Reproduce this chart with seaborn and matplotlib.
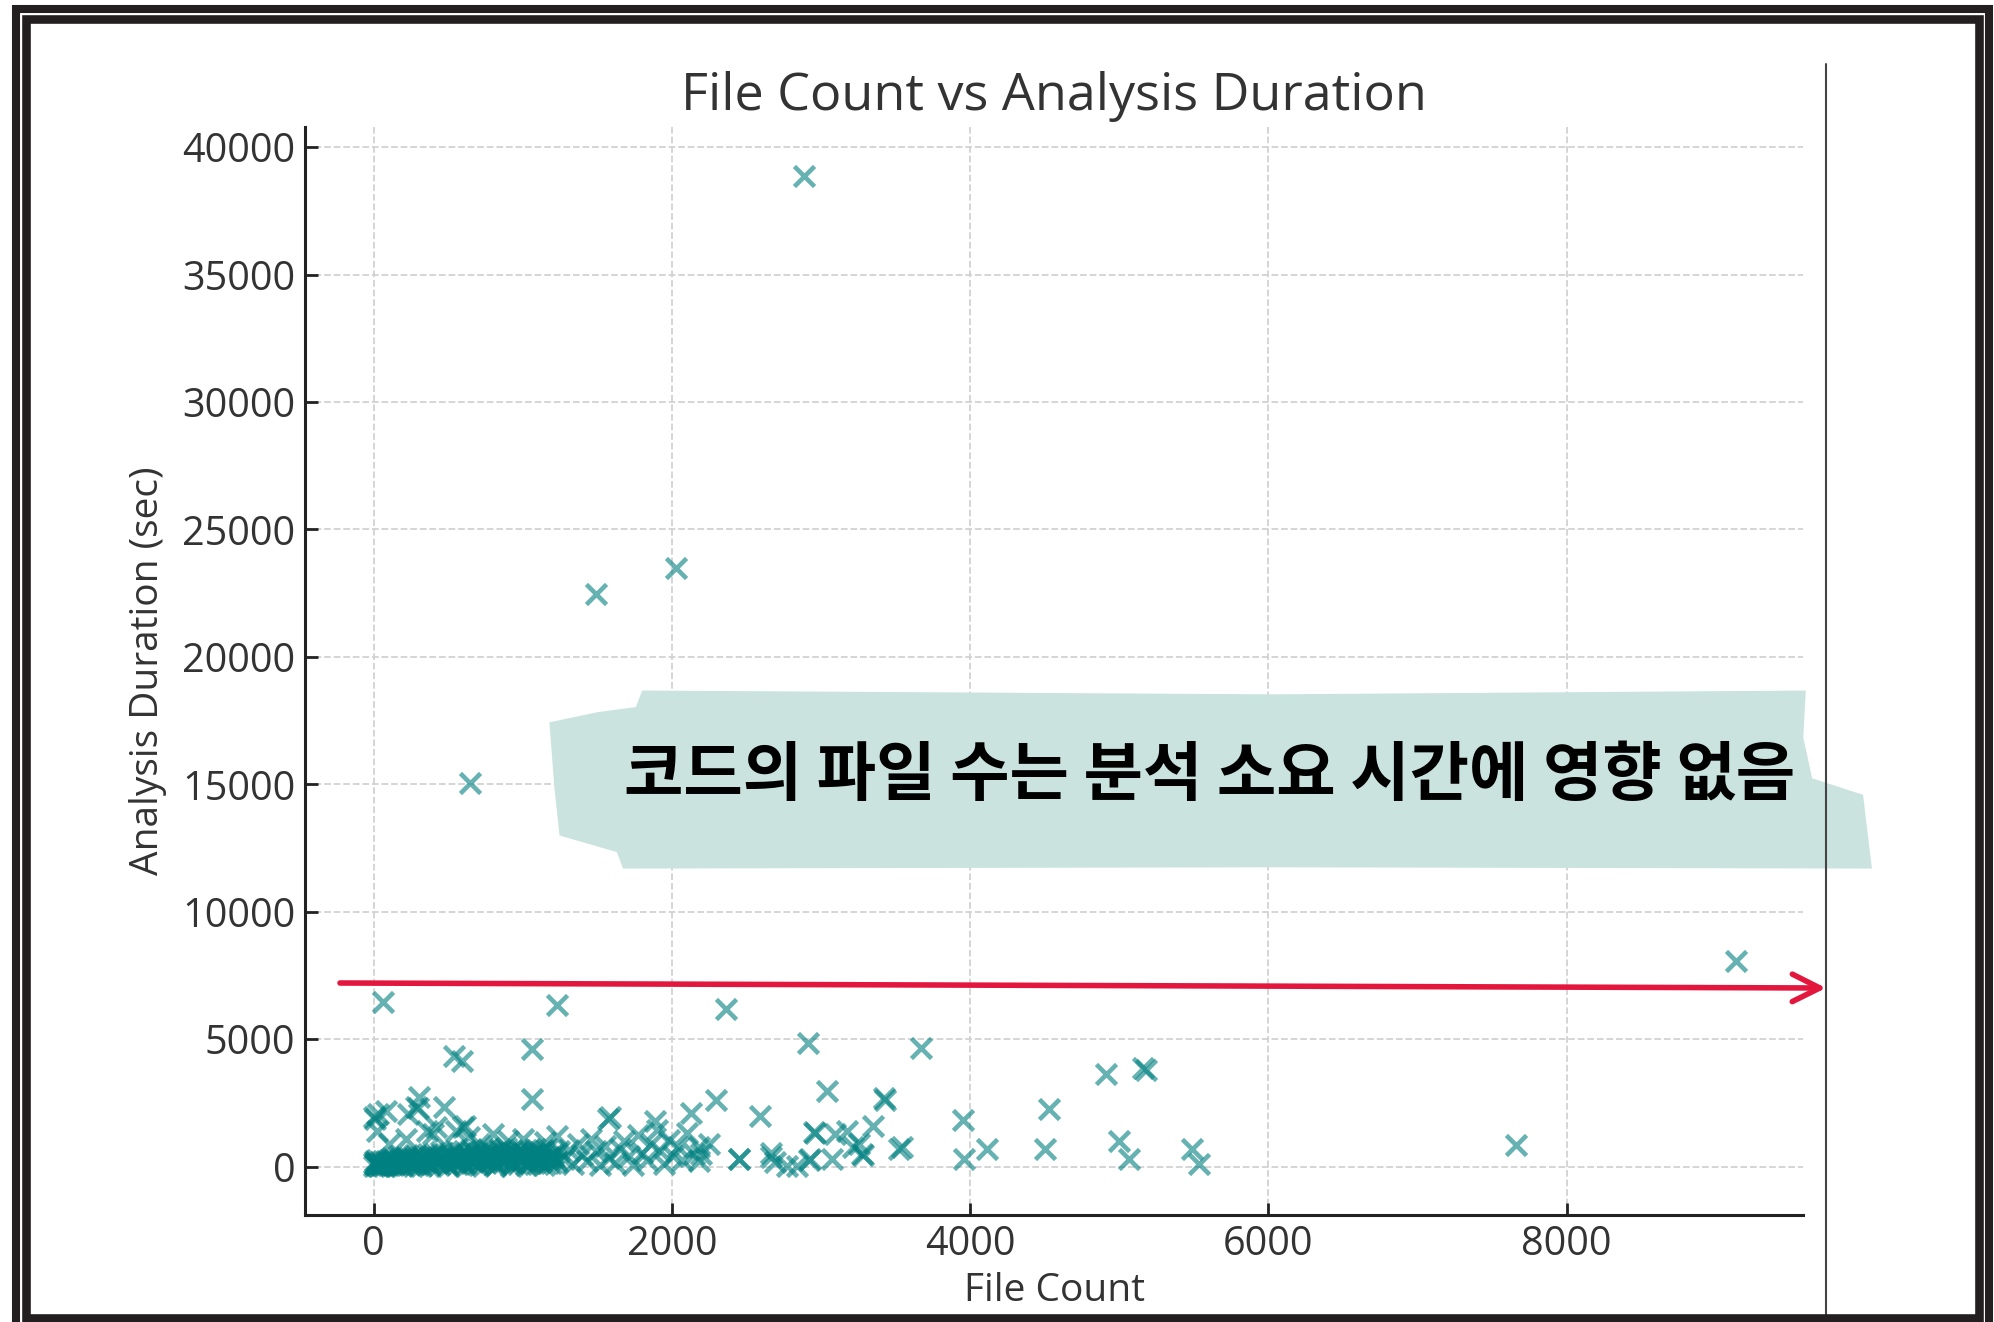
import pandas as pd
import seaborn as sns
from matplotlib import pyplot as plt
from matplotlib.patches import Polygon, Rectangle, FancyArrowPatch
from matplotlib.lines import Line2D

W, H = 1994, 1322

# dense band of small projects (file count, seconds)
band_files = [
    0, 5, 10, 15, 20, 25, 30, 40, 50, 60, 70, 80, 90, 100,
    110, 125, 140, 155, 170, 185, 200, 215, 230, 245, 260, 275, 290, 305,
    320, 335, 350, 365, 380, 395,
    410, 425, 440, 455, 470, 485, 500, 515, 530, 545, 560, 575, 590, 605,
    620, 635, 650, 665, 680, 695, 710, 725, 740, 755, 770, 785,
    800, 815, 830, 845, 860, 875, 890, 905, 920, 935, 950, 965, 980, 995,
    1010, 1025, 1040, 1055, 1070, 1085, 1100, 1115, 1130, 1145, 1160, 1175,
    1190, 1205, 1220, 1240,
    8, 35, 65, 95, 130, 160, 190, 220, 250, 280, 310, 340, 370, 400, 430,
    460, 490, 520, 550, 580, 610, 640, 670, 700, 730, 760, 790, 820, 850,
    880, 910, 940, 970, 1000, 1030, 1060, 1090, 1120, 1150, 1180, 1210,
    18, 48, 78, 112, 145, 178, 208, 238, 268, 298, 328, 358, 388, 418, 448,
    478, 508, 538, 568, 598, 628, 658, 688, 718, 748, 778, 808, 838, 868,
    898, 928, 958, 988, 1018, 1048, 1078, 1108, 1138, 1168, 1198, 1228,
]
band_secs = [
    20, 150, 230, 80, 250, 110, 40, 190, 120, 60, 10, 220, 170, 240,
    60, 320, 230, 30, 400, 300, 110, 380, 200, 50, 350, 440, 140, 270,
    20, 450, 180, 480, 90, 320,
    500, 240, 60, 560, 380, 150, 30, 520, 280, 600, 100, 430, 210, 600,
    40, 350, 640, 170, 480, 290, 60, 620, 390, 130, 700, 250,
    540, 40, 330, 680, 160, 450, 720, 220, 30, 580, 370, 120, 650, 290,
    500, 70, 640, 200, 430, 700, 110, 560, 300, 60, 680, 390, 150, 500,
    250, 620,
    90, 40, 200, 70, 150, 280, 20, 330, 160, 90, 390, 250, 30, 420, 180,
    350, 90, 460, 210, 520, 120, 400, 260, 540, 160, 450, 330, 120, 600,
    260, 470, 150, 380, 550, 230, 460, 300, 180, 420, 280, 360,
    130, 60, 110, 180, 90, 220, 300, 120, 260, 60, 330, 220, 360, 160, 290,
    240, 410, 130, 330, 250, 460, 230, 110, 410, 290, 520, 200, 460, 330,
    580, 140, 490, 260, 420, 130, 540, 240, 640, 150, 420, 180,
]

# medium projects and outliers (file count, seconds)
other_files = [
    2888, 2028, 1491, 647, 9133, 60, 1227, 2362, 2915, 3672, 1062, 536, 592,
    4908, 5160, 5178, 3039, 1062, 2295, 3420, 3432, 4528, 2130, 2588, 3955,
    2950, 2958, 3095, 3175, 3352, 3252, 3274, 3545, 3520, 2447, 2662, 2693,
    2775, 2838, 2928, 2920, 3075, 3218, 3282, 3960, 4112, 4503, 5000, 5066,
    5491, 5535, 7658, 2180, 2195, 2185,
    0, 12, 22, 27, 83, 228, 284, 296, 306, 474, 418, 358, 615, 597,
    1587, 1569, 1889, 105, 217, 396, 552, 641, 708, 798, 900, 1000, 1150,
    1230, 1280, 1310, 1340, 1370, 1400, 1430, 1460, 1490, 1520, 1550, 1580,
    1620, 1650, 1680, 1710, 1740, 1770, 1800, 1830, 1860, 1900, 1920, 1950,
    1980, 2010, 2040, 2070, 2100, 2150, 2250, 2452, 2664,
]
other_secs = [
    38850, 23500, 22450, 15050, 8050, 6450, 6350, 6200, 4850, 4670, 4607,
    4346, 4150, 3630, 3850, 3800, 2980, 2649, 2600, 2680, 2630, 2265, 2100,
    2000, 1810, 1340, 1300, 1280, 1405, 1600, 890, 496, 760, 680, 300, 540,
    170, 40, 40, 300, 240, 300, 780, 455, 310, 692, 692, 1018, 300, 692,
    104, 860, 760, 500, 235,
    1950, 1880, 1409, 2062, 2192, 2062, 2323, 2290, 2714, 2323, 1540, 1409,
    1605, 1540, 1931, 1866, 1801, 887, 1083, 1279, 1409, 1148, 887, 1279,
    1000, 1100, 950, 1200, 300, 650, 90, 900, 450, 200, 1100, 600, 50, 820,
    350, 150, 700, 1000, 400, 80, 1250, 550, 250, 900, 1450, 600, 120, 1050,
    400, 750, 250, 1300, 500, 900, 300, 365,
]

note = "코드의 파일 수는 분석 소요 시간에 영향 없음"

df = pd.DataFrame({
    "File Count": band_files + other_files,
    "Analysis Duration (sec)": band_secs + other_secs,
})

sns.set_style("ticks")
plt.rcParams["font.family"] = ["Open Sans", "DejaVu Sans"]


def fx(px):
    return px / W


def fy(py):
    return 1 - py / H


fig = plt.figure(figsize=(W / 100, H / 100), dpi=100)
ax = fig.add_axes([fx(305), fy(1215), fx(1803) - fx(305), fy(127) - fy(1215)])

ax.grid(True, linestyle="--", color="#d2d2d2", linewidth=1.3)
ax.set_axisbelow(True)
sns.scatterplot(
    data=df, x="File Count", y="Analysis Duration (sec)", ax=ax,
    marker="x", s=210, color="teal", alpha=0.6, linewidth=3.3,
)
ax.set_xlim(-460, 9585)
ax.set_ylim(-1900, 40790)
ax.set_xticks([0, 2000, 4000, 6000, 8000])
ax.set_yticks(range(0, 40001, 5000))
sns.despine(ax=ax)
for s in ["left", "bottom"]:
    ax.spines[s].set_linewidth(2.2)
    ax.spines[s].set_color("#222222")
ax.tick_params(direction="in", length=9, width=2, colors="#222222",
               labelsize=28.5, labelcolor="#333333")
ax.tick_params(axis="y", pad=7)
ax.tick_params(axis="x", pad=7)
ax.set_title("File Count vs Analysis Duration", fontsize=37.5, color="#333333", pad=12)
ax.set_xlabel("File Count", fontsize=28, color="#333333", labelpad=5)
ax.set_ylabel("Analysis Duration (sec)", fontsize=28, color="#333333", labelpad=11)

# brush stroke behind the note
brush = [(505, 543), (1000, 546), (1420, 543), (1418, 580), (1425, 612),
         (1465, 625), (1472, 683), (1000, 682), (490, 683), (485, 670),
         (440, 657), (436, 620), (432, 568), (470, 560), (500, 556)]
fig.add_artist(Polygon([(fx(x * 1.2717), fy(y * 1.2717)) for x, y in brush],
                       closed=True, facecolor="#cae3de", edgecolor="none",
                       transform=fig.transFigure, zorder=5))
fig.text(fx(1210), fy(776), note, ha="center", va="center", fontsize=46.5,
         fontweight="black", color="black", zorder=6,
         family=["Noto Sans CJK KR", "DejaVu Sans"])

# red arrow
fig.add_artist(FancyArrowPatch((fx(340), fy(983)), (fx(1826), fy(988)),
                               transform=fig.transFigure,
                               arrowstyle="->,head_length=0.9,head_width=0.45",
                               mutation_scale=22, color="#e3173e", linewidth=4,
                               shrinkA=0, shrinkB=0, zorder=6))
# thin vertical rule
fig.add_artist(Line2D([fx(1826), fx(1826)], [fy(64), 0], transform=fig.transFigure,
                      color="#444444", linewidth=1.5, zorder=6))

# double frame
fig.add_artist(Rectangle((fx(15.5), fy(1340)), fx(1989) - fx(15.5), fy(9) - fy(1340),
                         transform=fig.transFigure, fill=False, edgecolor="#231f20",
                         linewidth=5.8, zorder=7))
fig.add_artist(Rectangle((fx(25.5), fy(1317.5)), fx(1979) - fx(25.5), fy(19) - fy(1317.5),
                         transform=fig.transFigure, fill=False, edgecolor="#231f20",
                         linewidth=6.2, zorder=7))

fig.savefig("out.png", dpi=100)
